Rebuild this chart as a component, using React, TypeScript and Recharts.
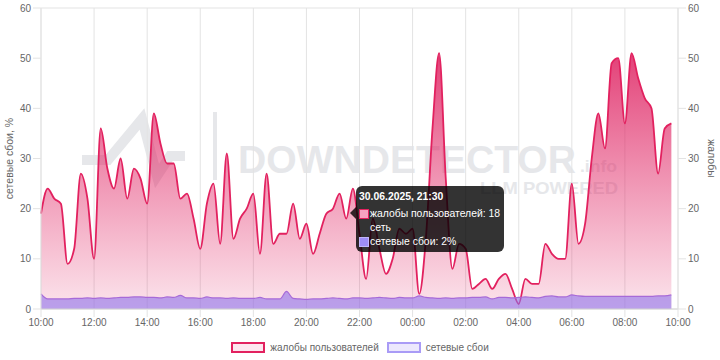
import React from 'react';
import { AreaChart, Area, XAxis, YAxis, CartesianGrid, Tooltip, Legend } from 'recharts';

// ---- data ----
const tickLabels = ['10:00', '12:00', '14:00', '16:00', '18:00', '20:00', '22:00', '00:00', '02:00', '04:00', '06:00', '08:00', '10:00'];
const tickHours = [0, 2, 4, 6, 8, 10, 12, 14, 16, 18, 20, 22, 24];
const yTicks = [0, 10, 20, 30, 40, 50, 60];

// user complaints every 15 minutes, from 10:00 to 09:45
const complaints = [
  19, 24, 22, 21, 9, 12, 27, 22,
  10, 36, 28, 24, 30, 22, 28, 26,
  21, 39, 33, 29, 29, 22, 23, 18,
  12, 21, 25, 13, 31, 14, 18, 20,
  23, 11, 27, 13, 15, 15, 21, 14,
  17, 11, 15, 19, 20, 23, 18, 24,
  15, 6, 18, 12, 7, 10, 16, 15,
  16, 3, 14, 36, 51, 26, 8, 13,
  12, 4, 5, 6, 4, 6, 7, 4,
  1, 6, 5, 5, 13, 11, 10, 10,
  25, 13, 17, 30, 39, 32, 49, 50,
  37, 51, 46, 42, 40, 27, 36, 37,
];

// network failures, %
const outages = [
  3, 2, 2, 2, 2, 2.1, 2.1, 2.2,
  2.1, 2.2, 2.1, 2.2, 2.3, 2.3, 2.4, 2.4,
  2.3, 2.3, 2.2, 2.4, 2.3, 2.7, 2.2, 2.2,
  2.1, 2.4, 2.2, 2.2, 2.1, 2.2, 2.1, 2.1,
  2.1, 2.3, 2, 2, 2, 3.5, 2.1, 2,
  1.9, 2, 2, 2.1, 2.2, 2.1, 2.0, 2.2,
  2.2, 2.1, 2.2, 2.3, 2.2, 2.1, 2.3, 2.2,
  2.2, 2.6, 2.3, 2.2, 2.1, 2.2, 2.1, 2.2,
  2.2, 2.3, 2.3, 2.4, 2.0, 2.3, 2.3, 2.2,
  2.3, 2.4, 2.3, 2.2, 2.5, 2.6, 2.4, 2.4,
  2.8, 2.6, 2.5, 2.5, 2.5, 2.5, 2.5, 2.5,
  2.5, 2.5, 2.5, 2.5, 2.5, 2.6, 2.6, 2.8,
];

const startHour = 10;
const stepHours = 0.25;
const tooltipDate = '30.06.2025';
const tooltipIndex = 46;

const seriesComplaints = 'жалобы пользователей';
const seriesOutages = 'сетевые сбои';
const leftAxisTitle = 'сетевые сбои, %';
const rightAxisTitle = 'жалобы';
const extraTooltipLine = 'сеть';

const data = complaints.map((c, i) => ({ h: i * stepHours, complaints: c, outages: outages[i] }));

const FONT = '"Liberation Sans", Arial, Helvetica, sans-serif';
const PINK = '#e2215f';
const PURPLE = '#9d8df5';
const GRID = '#e3e3e3';

const fmtTime = (h: number) => {
  const total = Math.round((startHour + h) * 60) % (24 * 60);
  const hh = Math.floor(total / 60);
  const mm = total % 60;
  return `${String(hh).padStart(2, '0')}:${String(mm).padStart(2, '0')}`;
};

const CustomTooltip = (props: any) => {
  const { payload } = props;
  if (!payload || !payload.length) return null;
  const p = payload[0].payload;
  const row = (color: string, border: string, text: string) => (
    <div style={{ display: 'flex', alignItems: 'center', height: 14 }}>
      <span style={{ display: 'inline-block', flex: '0 0 10px', width: 10, height: 10, background: color, border: `1px solid ${border}`, boxSizing: 'border-box', marginRight: 1 }} />
      <span>{text}</span>
    </div>
  );
  return (
    <div style={{ position: 'relative', background: 'rgba(0,0,0,0.8)', color: '#fff', borderRadius: 6, padding: '4px 4px 3px 3px', fontFamily: FONT, fontSize: 10.4, lineHeight: '14px', whiteSpace: 'nowrap' }}>
      <div style={{ position: 'absolute', left: -6, top: 21, width: 0, height: 0, borderTop: '6px solid transparent', borderBottom: '6px solid transparent', borderRight: '6px solid rgba(0,0,0,0.8)' }} />
      <div style={{ fontWeight: 'bold', fontSize: 10.4, lineHeight: '13px', marginBottom: 4 }}>{`${tooltipDate}, ${fmtTime(p.h)}`}</div>
      {row('#f4a3c1', PINK, `${seriesComplaints}: ${p.complaints}`)}
      <div style={{ paddingLeft: 11, height: 14 }}>{extraTooltipLine}</div>
      {row(PURPLE, '#c0b6fa', `${seriesOutages}: ${Math.round(p.outages)}%`)}
    </div>
  );
};

const LegendContent = () => (
  <div style={{ display: 'flex', justifyContent: 'center', alignItems: 'center', height: 29, boxSizing: 'border-box', paddingTop: 3, fontFamily: FONT, fontSize: 10, color: '#666' }}>
    <span style={{ display: 'inline-block', width: 34, height: 11, boxSizing: 'border-box', border: `2px solid ${PINK}`, background: '#fde6ef', marginRight: 5 }} />
    <span style={{ marginRight: 8 }}>{seriesComplaints}</span>
    <span style={{ display: 'inline-block', width: 34, height: 11, boxSizing: 'border-box', border: '2px solid #a99bf6', background: '#ece8fd', marginRight: 5 }} />
    <span>{seriesOutages}</span>
  </div>
);

const Watermark = () => (
  <svg width={720} height={360} style={{ position: 'absolute', left: 0, top: 0 }}>
    <polyline points="82,160 108,160 142,119 157,176 170,156 185,156" fill="none" stroke="#e6e7ea" strokeWidth={10} strokeLinejoin="miter" />
    <rect x={213} y={112} width={4} height={68} fill="#e6e7ea" />
    <text x={238} y={173} fontFamily={FONT} fontWeight="bold" fontSize={38} fill="#e6e7ea" textLength={338} lengthAdjust="spacingAndGlyphs">DOWNDETECTOR</text>
    <text x={580} y={172} fontFamily={FONT} fontWeight="bold" fontSize={17} fill="#e6e7ea" textLength={37} lengthAdjust="spacingAndGlyphs">.info</text>
    <text x={480} y={194} fontFamily={FONT} fontWeight="bold" fontSize={17} fill="#e6e7ea" textLength={138} lengthAdjust="spacingAndGlyphs">LLM POWERED</text>
  </svg>
);

export default function App() {
  return (
    <div style={{ position: 'absolute', left: 0, top: 0, width: 720, height: 360, background: '#fff' }}>
      <Watermark />
      <div style={{ position: 'absolute', left: 0, top: 0 }}>
        <AreaChart width={720} height={360} data={data} margin={{ top: 8, right: 0, bottom: 0, left: 0 }}>
          <defs>
            <linearGradient id="pinkFill" gradientUnits="userSpaceOnUse" x1="0" y1="8" x2="0" y2="309">
              <stop offset="0" stopColor="#dc1a5c" stopOpacity={0.97} />
              <stop offset="1" stopColor="#e4306c" stopOpacity={0.13} />
            </linearGradient>
          </defs>
          <CartesianGrid stroke={GRID} vertical horizontal />
          <XAxis
            dataKey="h"
            type="number"
            domain={[0, 24]}
            ticks={tickHours}
            tickFormatter={(v: number) => tickLabels[tickHours.indexOf(v)]}
            height={22}
            tickSize={8}
            tickMargin={2}
            tickLine={{ stroke: GRID }}
            axisLine={{ stroke: '#d6d6d6' }}
            tick={{ fill: '#666', fontSize: 10, fontFamily: FONT }}
            interval={0}
          />
          <YAxis
            yAxisId="left"
            orientation="left"
            domain={[0, 60]}
            ticks={yTicks}
            width={41}
            tickSize={8}
            tickMargin={2}
            tickLine={{ stroke: GRID }}
            axisLine={{ stroke: GRID }}
            tick={{ fill: '#666', fontSize: 10, fontFamily: FONT }}
            label={{ value: leftAxisTitle, angle: -90, position: 'insideLeft', offset: 9, style: { textAnchor: 'middle', fill: '#666', fontSize: 10.5, fontFamily: FONT } }}
          />
          <YAxis
            yAxisId="right"
            orientation="right"
            domain={[0, 60]}
            ticks={yTicks}
            width={42}
            tickSize={8}
            tickMargin={2}
            tickLine={{ stroke: GRID }}
            axisLine={{ stroke: GRID }}
            tick={{ fill: '#666', fontSize: 10, fontFamily: FONT }}
            label={{ value: rightAxisTitle, angle: 90, position: 'insideRight', offset: 8, style: { textAnchor: 'middle', fill: '#666', fontSize: 10.5, fontFamily: FONT } }}
          />
          <Area
            yAxisId="right"
            type="monotone"
            dataKey="complaints"
            name={seriesComplaints}
            stroke={PINK}
            strokeWidth={1.8}
            fill="url(#pinkFill)"
            fillOpacity={1}
            dot={false}
            activeDot={false}
            isAnimationActive={false}
          />
          <Area
            yAxisId="left"
            type="monotone"
            dataKey="outages"
            name={seriesOutages}
            stroke="#a76ad8"
            strokeWidth={1.2}
            fill="#8f72ea"
            fillOpacity={0.6}
            dot={false}
            activeDot={false}
            isAnimationActive={false}
          />
          <Legend verticalAlign="bottom" content={<LegendContent />} />
          <Tooltip
            active
            defaultIndex={tooltipIndex}
            position={{ x: 356, y: 186 }}
            cursor={false}
            isAnimationActive={false}
            content={<CustomTooltip />}
            wrapperStyle={{ outline: 'none' }}
          />
        </AreaChart>
      </div>
    </div>
  );
}
